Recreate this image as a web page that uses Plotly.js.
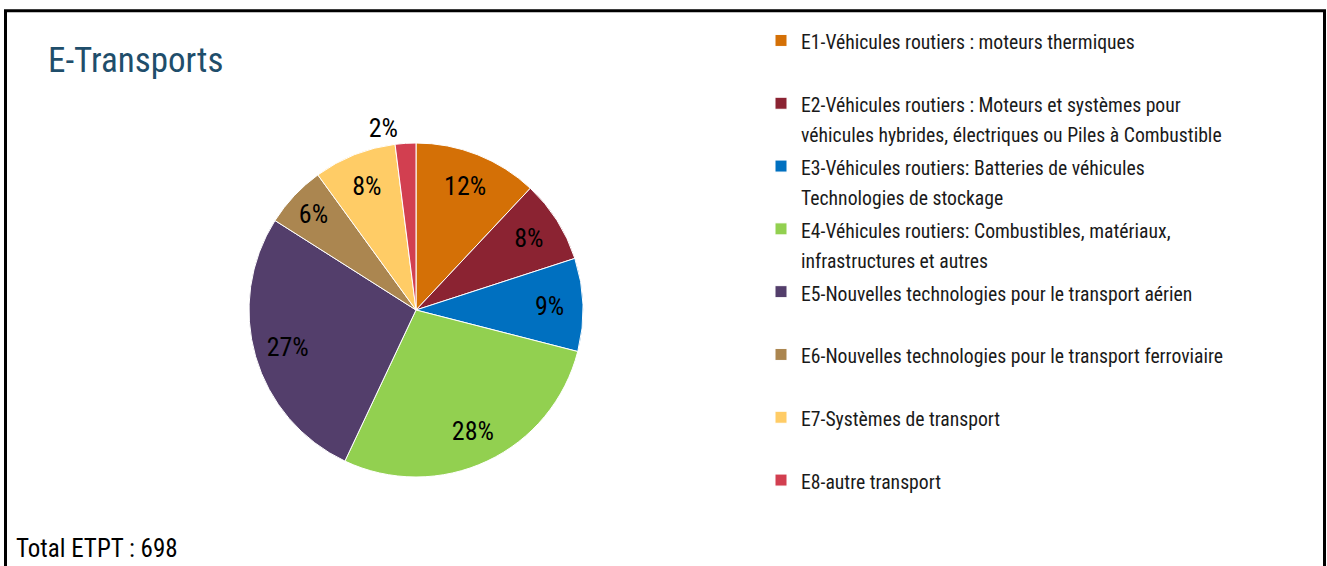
<!DOCTYPE html>
<html>
<head>
<meta charset="utf-8">
<script src="https://cdn.plot.ly/plotly-3.0.1.min.js"></script>
<style>
  html, body { margin: 0; padding: 0; background: #ffffff; }
  #chart { width: 1327px; height: 566px; }
  text { font-stretch: condensed !important; }
</style>
</head>
<body>
<div id="chart"></div>
<script>
// ---- Data ----
const categories = [
  "E1-Véhicules routiers : moteurs thermiques",
  "E2-Véhicules routiers : Moteurs et systèmes pour<br>véhicules hybrides, électriques ou Piles à Combustible",
  "E3-Véhicules routiers: Batteries de véhicules<br>Technologies de stockage",
  "E4-Véhicules routiers: Combustibles, matériaux,<br>infrastructures et autres",
  "E5-Nouvelles technologies pour le transport aérien",
  "E6-Nouvelles technologies pour le transport ferroviaire",
  "E7-Systèmes de transport",
  "E8-autre transport"
];
const percents = [12, 8, 9, 28, 27, 6, 8, 2];
const colors = ["#D47006", "#8B2332", "#0070C0", "#92D050", "#533E6B", "#AB8650", "#FFCC66", "#D23F50"];
const labelPositions = ["inside", "inside", "inside", "inside", "inside", "inside", "inside", "outside"];
const titleText = "E-Transports";
const totalText = "Total ETPT : 698";

const W = 1327, H = 566;
const FONT = "Roboto, 'Liberation Sans', sans-serif";
const pieDomain = { x: [249 / W, 583 / W], y: [1 - 477 / H, 1 - 143 / H] };

// legend labels: every entry padded to two lines so each takes the same height
const legendLabels = categories.map(c => {
  const lines = c.split("<br>");
  while (lines.length < 2) lines.push("&nbsp;");
  return lines.map(l => '<span style="font-size:19.7px">' + l + '</span>').join("<br>");
});

// main pie: the coloured slices and the legend
const slices = {
  type: "pie",
  labels: legendLabels,
  values: percents,
  sort: false,
  direction: "clockwise",
  rotation: 0,
  marker: { colors: colors, line: { color: "#ffffff", width: 1 } },
  textinfo: "none",
  hoverinfo: "none",
  domain: pieDomain
};

// transparent ring over the same slices, only to place the % labels near the rim
const labelRing = {
  type: "pie",
  labels: legendLabels,
  values: percents,
  sort: false,
  direction: "clockwise",
  rotation: 0,
  hole: 0.6,
  showlegend: false,
  marker: { colors: percents.map(() => "rgba(0,0,0,0)"), line: { width: 0 } },
  texttemplate: "%{value}%",
  textposition: labelPositions,
  insidetextorientation: "horizontal",
  textfont: { family: FONT, size: 26, color: "#000000" },
  insidetextfont: { family: FONT, size: 26, color: "#000000" },
  outsidetextfont: { family: FONT, size: 26, color: "#000000" },
  hoverinfo: "none",
  domain: pieDomain
};

const layout = {
  width: W,
  height: H,
  margin: { l: 0, r: 0, t: 0, b: 0 },
  paper_bgcolor: "#ffffff",
  plot_bgcolor: "#ffffff",
  showlegend: true,
  title: {
    text: titleText,
    x: 48 / W, xanchor: "left",
    y: 1 - 60 / H, yanchor: "middle",
    font: { family: FONT, size: 35, color: "#1F4E6B" }
  },
  legend: {
    x: 761 / W, xanchor: "left",
    y: 1 - 19 / H, yanchor: "top",
    valign: "top",
    traceorder: "normal",
    bgcolor: "rgba(0,0,0,0)",
    font: { family: FONT, size: 23, color: "#1a1a1a" }
  },
  annotations: [{
    text: totalText,
    xref: "paper", yref: "paper",
    x: 14 / W, xanchor: "left",
    y: 1 - 548 / H, yanchor: "middle",
    showarrow: false,
    font: { family: FONT, size: 25, color: "#000000" }
  }],
  shapes: [{
    type: "rect", xref: "paper", yref: "paper",
    x0: 5.5 / W, x1: 1324.5 / W,
    y0: -0.1, y1: 1 - 10.8 / H,
    line: { color: "#000000", width: 3 },
    fillcolor: "rgba(0,0,0,0)"
  }]
};

Plotly.newPlot("chart", [slices, labelRing], layout, { displayModeBar: false, staticPlot: true });
</script>
</body>
</html>
